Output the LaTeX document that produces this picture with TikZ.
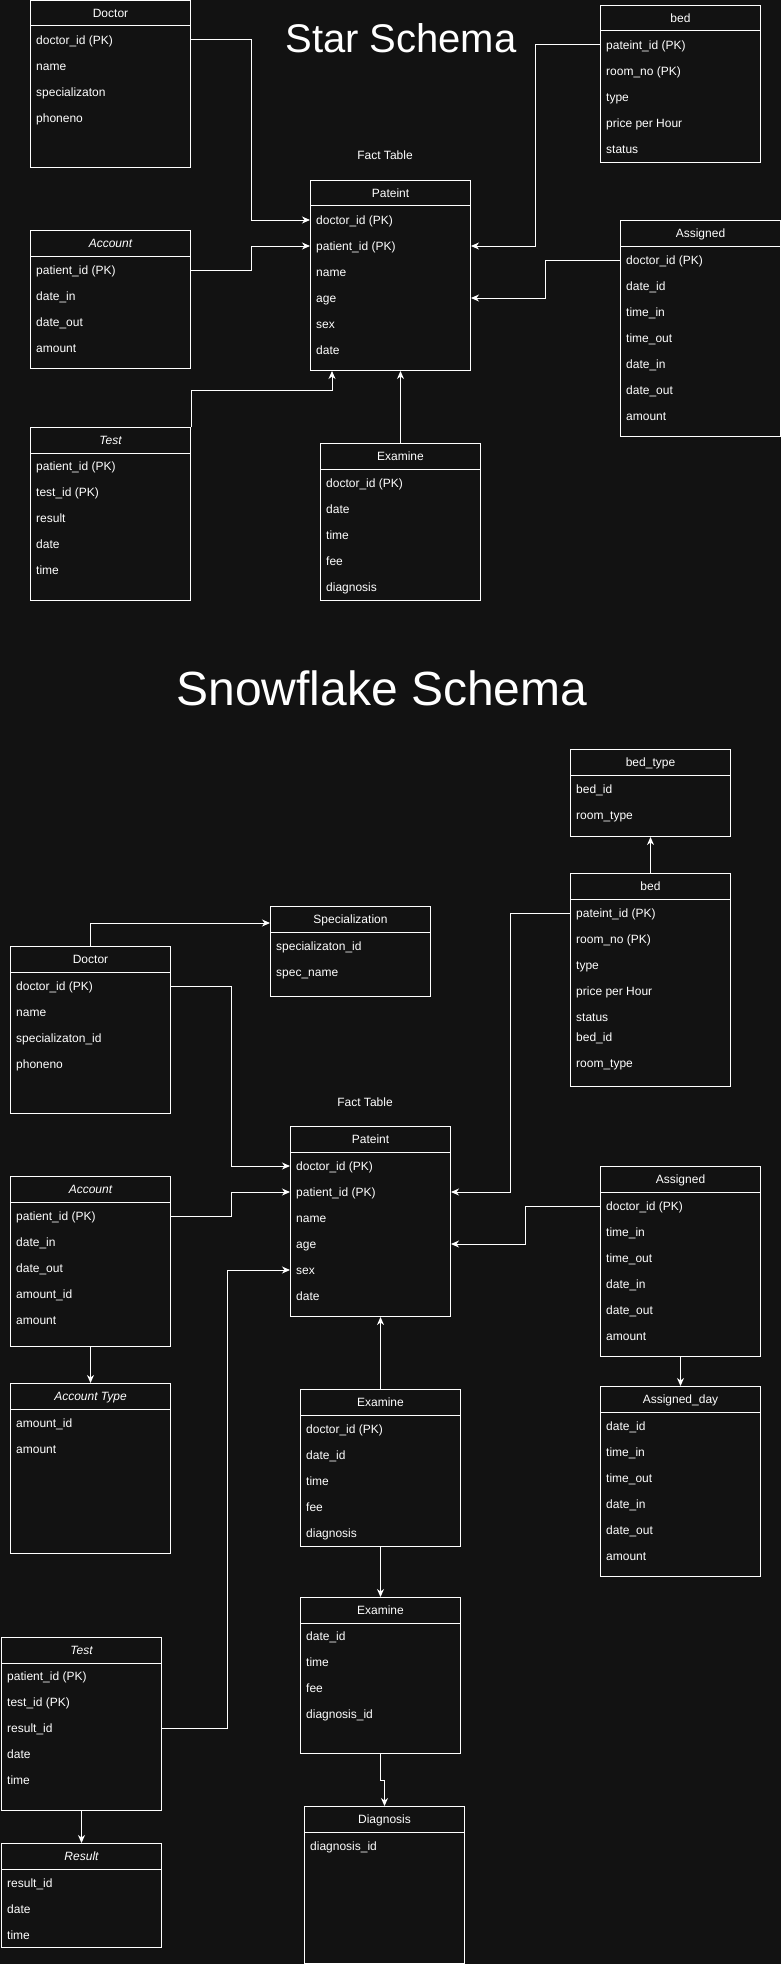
\documentclass[tikz,border=0pt]{standalone}
\usepackage{fontspec}
\setmainfont{Liberation Sans}
\usetikzlibrary{arrows.meta}
\definecolor{canvas}{HTML}{121212}

\begin{document}
\begin{tikzpicture}[x=1pt,y=-1pt,
    tbl/.style={draw=white,line width=1pt,anchor=north west,minimum width=160pt,inner sep=0pt},
    hdr/.style={text=white,inner sep=0pt,font=\fontsize{12}{14}\selectfont,text height=8.6pt,text depth=0pt},
    fld/.style={hdr,anchor=west},
    sep/.style={draw=white,line width=1pt},
    ttl/.style={text=white,inner sep=0pt,anchor=base,font=\fontsize{40}{48}\selectfont},
    note/.style={text=white,inner sep=0pt,anchor=base,font=\fontsize{12}{14}\selectfont},
    fk/.style={draw=white,line width=1pt,-{Stealth[length=8pt,width=7pt,inset=2.5pt]}}]
    \useasboundingbox (0,0) rectangle (781,1964);
    \fill[canvas] (0,0) rectangle (781,1964);

    % ---------------- Star schema ----------------
    \node[ttl] (stTitle) at (401,53) {Star Schema};
    \node[note] (stFact) at (385,160) {Fact Table};

    % Table Doctor
    \node[tbl,minimum height=167pt] (stDoc) at (30,0) {};
    \draw[sep] ([yshift=-26pt]stDoc.north west) -- ([yshift=-26pt]stDoc.north east);
    \node[hdr] (stDocT) at ([yshift=-13pt]stDoc.north) {Doctor};
    \node[fld] (stDoc1) at (36,40) {doctor\_id (PK)};
    \node[fld] (stDoc2) at (36,66) {name};
    \node[fld] (stDoc3) at (36,92) {specializaton};
    \node[fld] (stDoc4) at (36,118) {phoneno};

    % Table Account
    \node[tbl,minimum height=138pt] (stAcc) at (30,230) {};
    \draw[sep] ([yshift=-26pt]stAcc.north west) -- ([yshift=-26pt]stAcc.north east);
    \node[hdr] (stAccT) at ([yshift=-13pt]stAcc.north) {\itshape Account};
    \node[fld] (stAcc1) at (36,270) {patient\_id (PK)};
    \node[fld] (stAcc2) at (36,296) {date\_in};
    \node[fld] (stAcc3) at (36,322) {date\_out};
    \node[fld] (stAcc4) at (36,348) {amount};

    % Table Test
    \node[tbl,minimum height=173pt] (stTest) at (30,427) {};
    \draw[sep] ([yshift=-26pt]stTest.north west) -- ([yshift=-26pt]stTest.north east);
    \node[hdr] (stTestT) at ([yshift=-13pt]stTest.north) {\itshape Test};
    \node[fld] (stTest1) at (36,466) {patient\_id (PK)};
    \node[fld] (stTest2) at (36,492) {test\_id (PK)};
    \node[fld] (stTest3) at (36,518) {result};
    \node[fld] (stTest4) at (36,544) {date};
    \node[fld] (stTest5) at (36,570) {time};

    % Table Pateint (fact)
    \node[tbl,minimum height=190pt] (stPat) at (310,180) {};
    \draw[sep] ([yshift=-26pt]stPat.north west) -- ([yshift=-26pt]stPat.north east);
    \node[hdr] (stPatT) at ([yshift=-13pt]stPat.north) {Pateint};
    \node[fld] (stPat1) at (316,220) {doctor\_id (PK)};
    \node[fld] (stPat2) at (316,246) {patient\_id (PK)};
    \node[fld] (stPat3) at (316,272) {name};
    \node[fld] (stPat4) at (316,298) {age};
    \node[fld] (stPat5) at (316,324) {sex};
    \node[fld] (stPat6) at (316,350) {date};

    % Table Examine
    \node[tbl,minimum height=157pt] (stExa) at (320,443) {};
    \draw[sep] ([yshift=-26pt]stExa.north west) -- ([yshift=-26pt]stExa.north east);
    \node[hdr] (stExaT) at ([yshift=-13pt]stExa.north) {Examine};
    \node[fld] (stExa1) at (326,483) {doctor\_id (PK)};
    \node[fld] (stExa2) at (326,509) {date};
    \node[fld] (stExa3) at (326,535) {time};
    \node[fld] (stExa4) at (326,561) {fee};
    \node[fld] (stExa5) at (326,587) {diagnosis};

    % Table bed
    \node[tbl,minimum height=157pt] (stBed) at (600,5) {};
    \draw[sep] ([yshift=-26pt]stBed.north west) -- ([yshift=-26pt]stBed.north east);
    \node[hdr] (stBedT) at ([yshift=-13pt]stBed.north) {bed};
    \node[fld] (stBed1) at (606,45) {pateint\_id (PK)};
    \node[fld] (stBed2) at (606,71) {room\_no (PK)};
    \node[fld] (stBed3) at (606,97) {type};
    \node[fld] (stBed4) at (606,123) {price per Hour};
    \node[fld] (stBed5) at (606,149) {status};

    % Table Assigned
    \node[tbl,minimum height=216pt] (stAsg) at (620,220) {};
    \draw[sep] ([yshift=-26pt]stAsg.north west) -- ([yshift=-26pt]stAsg.north east);
    \node[hdr] (stAsgT) at ([yshift=-13pt]stAsg.north) {Assigned};
    \node[fld] (stAsg1) at (626,260) {doctor\_id (PK)};
    \node[fld] (stAsg2) at (626,286) {date\_id};
    \node[fld] (stAsg3) at (626,312) {time\_in};
    \node[fld] (stAsg4) at (626,338) {time\_out};
    \node[fld] (stAsg5) at (626,364) {date\_in};
    \node[fld] (stAsg6) at (626,390) {date\_out};
    \node[fld] (stAsg7) at (626,416) {amount};

    % Links to the fact table
    \draw[fk] (stDoc1 -| stDoc.east) -- ++(60,0) |- (stPat1 -| stPat.west);
    \draw[fk] (stAcc1 -| stAcc.east) -- ++(60,0) |- (stPat2 -| stPat.west);
    \draw[fk] (stBed1 -| stBed.west) -- ++(-65,0) |- (stPat2 -| stPat.east);
    \draw[fk] (stAsg1 -| stAsg.west) -- ++(-75,0) |- (stPat4 -| stPat.east);
    \draw[fk] (stTest.north east) -- ++(0,-37) -| ([xshift=22pt]stPat.south west);
    \draw[fk] (stExa.north) -- (stExa.north |- stPat.south);

    % ---------------- Snowflake schema ----------------
    \node[ttl,font=\fontsize{48}{56}\selectfont] (sfTitle) at (382,705) {Snowflake Schema};
    \node[note] (sfFact) at (365,1106) {Fact Table};

    % Table Specialization
    \node[tbl,minimum height=90pt] (sfSpec) at (270,906) {};
    \draw[sep] ([yshift=-26pt]sfSpec.north west) -- ([yshift=-26pt]sfSpec.north east);
    \node[hdr] (sfSpecT) at ([yshift=-13pt]sfSpec.north) {Specialization};
    \node[fld] (sfSpec1) at (276,946) {specializaton\_id};
    \node[fld] (sfSpec2) at (276,972) {spec\_name};

    % Table Doctor
    \node[tbl,minimum height=167pt] (sfDoc) at (10,946) {};
    \draw[sep] ([yshift=-26pt]sfDoc.north west) -- ([yshift=-26pt]sfDoc.north east);
    \node[hdr] (sfDocT) at ([yshift=-13pt]sfDoc.north) {Doctor};
    \node[fld] (sfDoc1) at (16,986) {doctor\_id (PK)};
    \node[fld] (sfDoc2) at (16,1012) {name};
    \node[fld] (sfDoc3) at (16,1038) {specializaton\_id};
    \node[fld] (sfDoc4) at (16,1064) {phoneno};

    % Table Account
    \node[tbl,minimum height=170pt] (sfAcc) at (10,1176) {};
    \draw[sep] ([yshift=-26pt]sfAcc.north west) -- ([yshift=-26pt]sfAcc.north east);
    \node[hdr] (sfAccT) at ([yshift=-13pt]sfAcc.north) {\itshape Account};
    \node[fld] (sfAcc1) at (16,1216) {patient\_id (PK)};
    \node[fld] (sfAcc2) at (16,1242) {date\_in};
    \node[fld] (sfAcc3) at (16,1268) {date\_out};
    \node[fld] (sfAcc4) at (16,1294) {amount\_id};
    \node[fld] (sfAcc5) at (16,1320) {amount};

    % Table Account Type
    \node[tbl,minimum height=170pt] (sfAccT) at (10,1383) {};
    \draw[sep] ([yshift=-26pt]sfAccT.north west) -- ([yshift=-26pt]sfAccT.north east);
    \node[hdr] (sfAccTT) at ([yshift=-13pt]sfAccT.north) {\itshape Account Type};
    \node[fld] (sfAccT1) at (16,1423) {amount\_id};
    \node[fld] (sfAccT2) at (16,1449) {amount};

    % Table Test
    \node[tbl,minimum height=173pt] (sfTest) at (1,1637) {};
    \draw[sep] ([yshift=-26pt]sfTest.north west) -- ([yshift=-26pt]sfTest.north east);
    \node[hdr] (sfTestT) at ([yshift=-13pt]sfTest.north) {\itshape Test};
    \node[fld] (sfTest1) at (7,1676) {patient\_id (PK)};
    \node[fld] (sfTest2) at (7,1702) {test\_id (PK)};
    \node[fld] (sfTest3) at (7,1728) {result\_id};
    \node[fld] (sfTest4) at (7,1754) {date};
    \node[fld] (sfTest5) at (7,1780) {time};

    % Table Result
    \node[tbl,minimum height=104pt] (sfRes) at (1,1843) {};
    \draw[sep] ([yshift=-26pt]sfRes.north west) -- ([yshift=-26pt]sfRes.north east);
    \node[hdr] (sfResT) at ([yshift=-13pt]sfRes.north) {\itshape Result};
    \node[fld] (sfRes1) at (7,1883) {result\_id};
    \node[fld] (sfRes2) at (7,1909) {date};
    \node[fld] (sfRes3) at (7,1935) {time};

    % Table Pateint (fact)
    \node[tbl,minimum height=190pt] (sfPat) at (290,1126) {};
    \draw[sep] ([yshift=-26pt]sfPat.north west) -- ([yshift=-26pt]sfPat.north east);
    \node[hdr] (sfPatT) at ([yshift=-13pt]sfPat.north) {Pateint};
    \node[fld] (sfPat1) at (296,1166) {doctor\_id (PK)};
    \node[fld] (sfPat2) at (296,1192) {patient\_id (PK)};
    \node[fld] (sfPat3) at (296,1218) {name};
    \node[fld] (sfPat4) at (296,1244) {age};
    \node[fld] (sfPat5) at (296,1270) {sex};
    \node[fld] (sfPat6) at (296,1296) {date};

    % Table Examine
    \node[tbl,minimum height=157pt] (sfExa) at (300,1389) {};
    \draw[sep] ([yshift=-26pt]sfExa.north west) -- ([yshift=-26pt]sfExa.north east);
    \node[hdr] (sfExaT) at ([yshift=-13pt]sfExa.north) {Examine};
    \node[fld] (sfExa1) at (306,1429) {doctor\_id (PK)};
    \node[fld] (sfExa2) at (306,1455) {date\_id};
    \node[fld] (sfExa3) at (306,1481) {time};
    \node[fld] (sfExa4) at (306,1507) {fee};
    \node[fld] (sfExa5) at (306,1533) {diagnosis};

    % Table Examine (date part)
    \node[tbl,minimum height=156pt] (sfExb) at (300,1597) {};
    \draw[sep] ([yshift=-26pt]sfExb.north west) -- ([yshift=-26pt]sfExb.north east);
    \node[hdr] (sfExbT) at ([yshift=-13pt]sfExb.north) {Examine};
    \node[fld] (sfExb1) at (306,1636) {date\_id};
    \node[fld] (sfExb2) at (306,1662) {time};
    \node[fld] (sfExb3) at (306,1688) {fee};
    \node[fld] (sfExb4) at (306,1714) {diagnosis\_id};

    % Table Diagnosis
    \node[tbl,minimum height=157pt] (sfDiag) at (304,1806) {};
    \draw[sep] ([yshift=-26pt]sfDiag.north west) -- ([yshift=-26pt]sfDiag.north east);
    \node[hdr] (sfDiagT) at ([yshift=-13pt]sfDiag.north) {Diagnosis};
    \node[fld] (sfDiag1) at (310,1846) {diagnosis\_id};

    % Table bed_type
    \node[tbl,minimum height=87pt] (sfBedT) at (570,749) {};
    \draw[sep] ([yshift=-26pt]sfBedT.north west) -- ([yshift=-26pt]sfBedT.north east);
    \node[hdr] (sfBedTT) at ([yshift=-13pt]sfBedT.north) {bed\_type};
    \node[fld] (sfBedT1) at (576,789) {bed\_id};
    \node[fld] (sfBedT2) at (576,815) {room\_type};

    % Table bed
    \node[tbl,minimum height=213pt] (sfBed) at (570,873) {};
    \draw[sep] ([yshift=-26pt]sfBed.north west) -- ([yshift=-26pt]sfBed.north east);
    \node[hdr] (sfBedH) at ([yshift=-13pt]sfBed.north) {bed};
    \node[fld] (sfBed1) at (576,913) {pateint\_id (PK)};
    \node[fld] (sfBed2) at (576,939) {room\_no (PK)};
    \node[fld] (sfBed3) at (576,965) {type};
    \node[fld] (sfBed4) at (576,991) {price per Hour};
    \node[fld] (sfBed5) at (576,1017) {status};
    \node[fld] (sfBed6) at (576,1037) {bed\_id};
    \node[fld] (sfBed7) at (576,1063) {room\_type};

    % Table Assigned
    \node[tbl,minimum height=190pt] (sfAsg) at (600,1166) {};
    \draw[sep] ([yshift=-26pt]sfAsg.north west) -- ([yshift=-26pt]sfAsg.north east);
    \node[hdr] (sfAsgT) at ([yshift=-13pt]sfAsg.north) {Assigned};
    \node[fld] (sfAsg1) at (606,1206) {doctor\_id (PK)};
    \node[fld] (sfAsg2) at (606,1232) {time\_in};
    \node[fld] (sfAsg3) at (606,1258) {time\_out};
    \node[fld] (sfAsg4) at (606,1284) {date\_in};
    \node[fld] (sfAsg5) at (606,1310) {date\_out};
    \node[fld] (sfAsg6) at (606,1336) {amount};

    % Table Assigned_day
    \node[tbl,minimum height=190pt] (sfDay) at (600,1386) {};
    \draw[sep] ([yshift=-26pt]sfDay.north west) -- ([yshift=-26pt]sfDay.north east);
    \node[hdr] (sfDayT) at ([yshift=-13pt]sfDay.north) {Assigned\_day};
    \node[fld] (sfDay1) at (606,1426) {date\_id};
    \node[fld] (sfDay2) at (606,1452) {time\_in};
    \node[fld] (sfDay3) at (606,1478) {time\_out};
    \node[fld] (sfDay4) at (606,1504) {date\_in};
    \node[fld] (sfDay5) at (606,1530) {date\_out};
    \node[fld] (sfDay6) at (606,1556) {amount};

    % Links
    \draw[fk] (sfDoc.north) |- ([yshift=-17pt]sfSpec.north west);
    \draw[fk] (sfDoc1 -| sfDoc.east) -- ++(60,0) |- (sfPat1 -| sfPat.west);
    \draw[fk] (sfAcc1 -| sfAcc.east) -- ++(60,0) |- (sfPat2 -| sfPat.west);
    \draw[fk] (sfAcc.south) -- (sfAccT.north);
    \draw[fk] (sfTest3 -| sfTest.east) -- ++(65,0) |- (sfPat5 -| sfPat.west);
    \draw[fk] (sfTest.south) -- (sfRes.north);
    \draw[fk] (sfExa.north) -- (sfExa.north |- sfPat.south);
    \draw[fk] (sfExa.south) -- (sfExb.north);
    \draw[fk] (sfExb.south) -- ++(0,26) -| (sfDiag.north);
    \draw[fk] (sfBed.north) -- (sfBedT.south);
    \draw[fk] (sfBed1 -| sfBed.west) -- ++(-60,0) |- (sfPat2 -| sfPat.east);
    \draw[fk] (sfAsg1 -| sfAsg.west) -- ++(-75,0) |- (sfPat4 -| sfPat.east);
    \draw[fk] (sfAsg.south) -- (sfDay.north);
\end{tikzpicture}
\end{document}
